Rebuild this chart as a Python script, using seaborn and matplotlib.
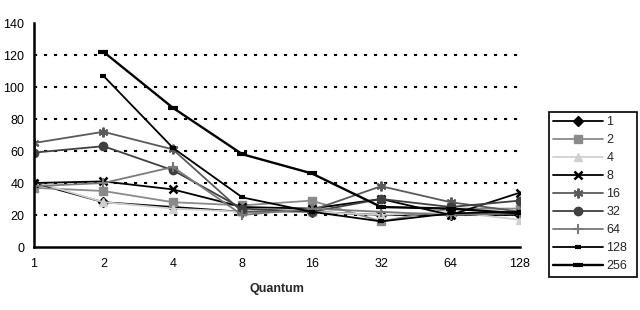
import numpy as np
import pandas as pd
import matplotlib
matplotlib.use("Agg")
import matplotlib.pyplot as plt
import seaborn as sns

quantum = ["1", "2", "4", "8", "16", "32", "64", "128"]
series_names = ["1", "2", "4", "8", "16", "32", "64", "128", "256"]

s1 = [40, 28, 25, 22, 22, 20, 20, 20]
s2 = [37, 35, 28, 26, 29, 16, 24, 24]
s4 = [41, 28, 24, 22, 22, 20, 22, 17]
s8 = [40, 41, 36, 25, 24, 30, 20, 34]
s16 = [65, 72, 61, 22, 23, 38, 28, 22]
s32 = [59, 63, 48, 24, 22, 30, 25, 29]
s64 = [38, 40, 50, 20, 24, 22, 20, 21]
s128 = [np.nan, 107, 62, 31, 22, 16, 21, 22]
s256 = [np.nan, 122, 87, 58, 46, 25, 24, 21]

values = [s1, s2, s4, s8, s16, s32, s64, s128, s256]

rows = []
for name, vals in zip(series_names, values):
    for i, (q, v) in enumerate(zip(quantum, vals)):
        rows.append({"series": name, "pos": i, "quantum": q, "value": v})
df = pd.DataFrame(rows).dropna()

sns.set_style("white")
plt.rcParams["font.family"] = ["Liberation Sans", "DejaVu Sans"]

fig = plt.figure(figsize=(6.4, 3.1), dpi=100)
ax = fig.add_axes([34 / 640, 1 - 247 / 310, (520 - 34) / 640, (247 - 23) / 310])

styles = {
    "1":   dict(color="black",   marker="D", ms=5, mec="black", mfc="black", lw=1.3, mew=1),
    "2":   dict(color="#8a8a8a", marker="s", ms=5.5, mec="#8a8a8a", mfc="#8a8a8a", lw=1.3, mew=1),
    "4":   dict(color="#d0d0d0", marker="^", ms=6, mec="#d0d0d0", mfc="#d0d0d0", lw=1.3, mew=1),
    "8":   dict(color="black",   marker="x", ms=6, mec="black", mfc="black", lw=1.3, mew=1.8),
    "16":  dict(color="#5a5a5a", marker=(6, 2, 0), ms=7, mec="#5a5a5a", mfc="#5a5a5a", lw=1.3, mew=1.5),
    "32":  dict(color="#404040", marker="o", ms=6, mec="#404040", mfc="#404040", lw=1.3, mew=1),
    "64":  dict(color="#7a7a7a", marker="+", ms=7, mec="#7a7a7a", mfc="#7a7a7a", lw=1.3, mew=1.5),
    "128": dict(color="black",   marker="_", ms=4, mec="black", mfc="black", lw=1.3, mew=3),
    "256": dict(color="black",   marker="_", ms=7, mec="black", mfc="black", lw=1.7, mew=3),
}

for name in series_names:
    sub = df[df["series"] == name]
    st = styles[name]
    sns.lineplot(data=sub, x="pos", y="value", ax=ax, color=st["color"],
                 marker=st["marker"], markersize=st["ms"], markeredgecolor=st["mec"],
                 markerfacecolor=st["mfc"], markeredgewidth=st["mew"],
                 linewidth=st["lw"], label=name, legend=False, zorder=3)

ax.set_xlim(0, 7)
ax.set_ylim(0, 140)
ax.set_xticks(range(len(quantum)))
ax.set_xticklabels(quantum)
ax.set_yticks(range(0, 141, 20))
ax.set_xlabel("Quantum", fontsize=9, fontweight="bold", labelpad=9)
ax.set_ylabel("")

for y in range(20, 121, 20):
    ax.axhline(y, color="black", lw=1.5, linestyle=(0, (1.5, 3.3)), zorder=1)

for s in ["top", "right"]:
    ax.spines[s].set_visible(False)
for s in ["left", "bottom"]:
    ax.spines[s].set_color("black")
    ax.spines[s].set_linewidth(1.8)
    ax.spines[s].set_zorder(4)

ax.tick_params(axis="x", direction="inout", length=6, width=1.2, labelsize=9, pad=5, colors="black")
ax.tick_params(axis="y", direction="out", length=3, width=1.2, labelsize=9, pad=4, colors="black")
ax.set_facecolor("white")

handles, labels = ax.get_legend_handles_labels()
leg = fig.legend(handles, labels, loc="upper left", mode="expand",
                 bbox_to_anchor=(549 / 640, 1 - 273 / 310, 88 / 640, (273 - 112) / 310),
                 fontsize=9, frameon=True, fancybox=False, framealpha=1,
                 edgecolor="black", handlelength=4.0, handletextpad=0.25,
                 labelspacing=0.48, borderpad=0.35, borderaxespad=0)
leg.get_frame().set_linewidth(1.2)

fig.savefig("out.png", dpi=100)
